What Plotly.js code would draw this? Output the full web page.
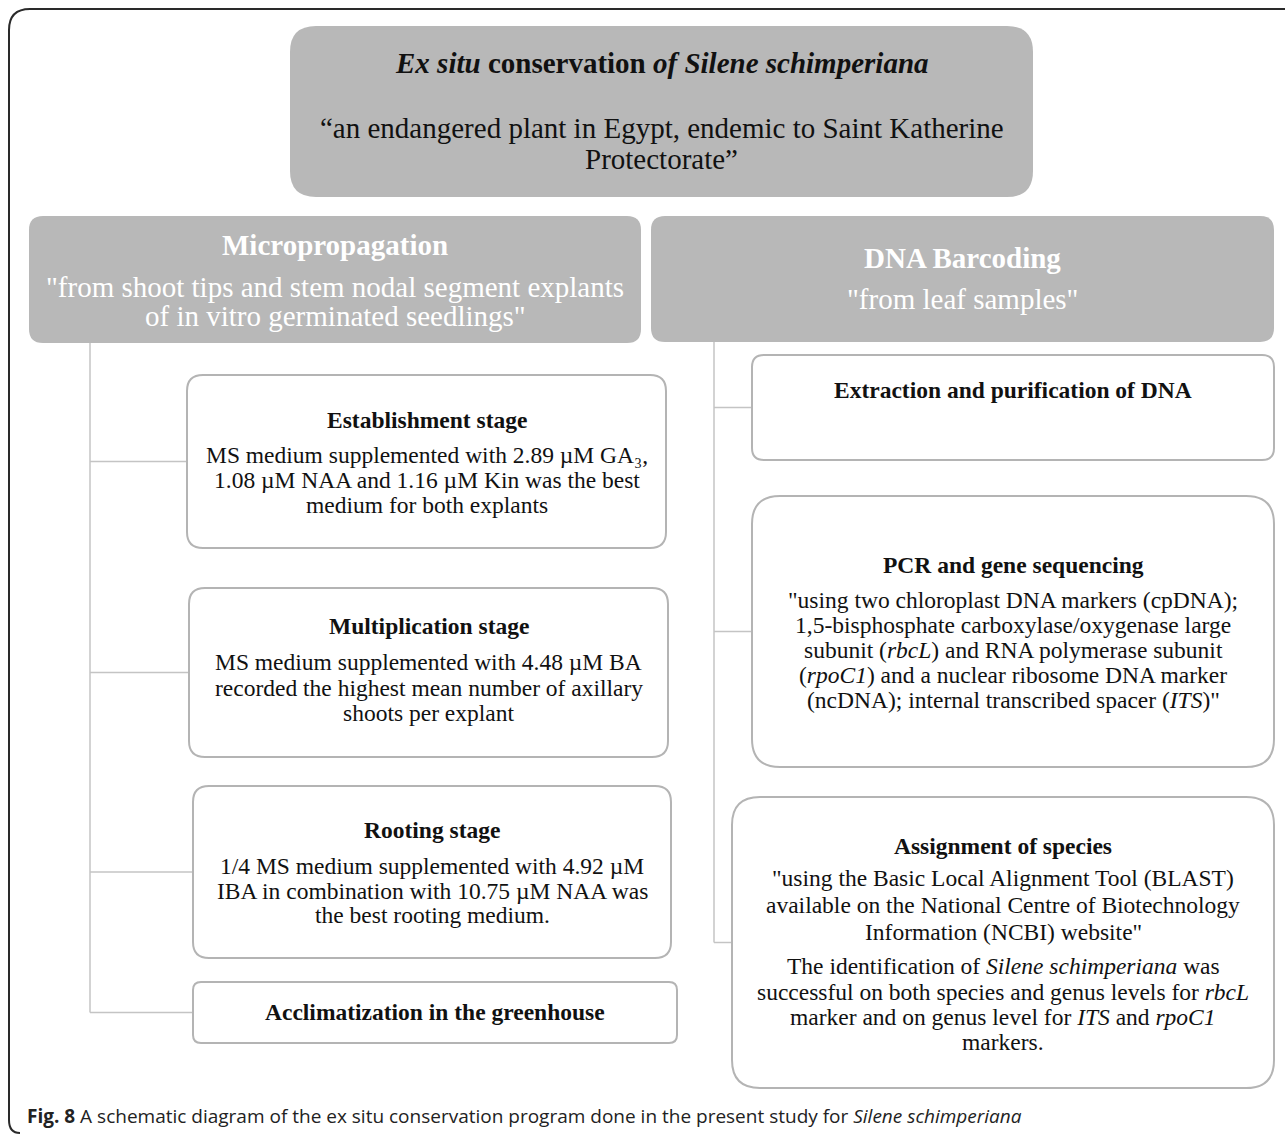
<!DOCTYPE html>
<html>
<head>
<meta charset="utf-8">
<script src="https://cdn.plot.ly/plotly-3.0.1.min.js"></script>
<style>html,body{margin:0;padding:0;background:#fff;}#chart{width:1285px;height:1134px;}</style>
</head>
<body>
<div id="chart"></div>
<script>
// ---------------- DATA (texts) ----------------
const topLines = [
  '<b><i>Ex situ</i> conservation <i>of Silene schimperiana</i></b>',
  '\u201Can endangered plant in Egypt, endemic to Saint Katherine',
  'Protectorate\u201D'
];
const branchTitles = ['Micropropagation', 'DNA Barcoding'];
const branchSubLines = [
  ['"from shoot tips and stem nodal segment explants', 'of in vitro germinated seedlings"'],
  ['"from leaf samples"']
];
const microStages = ['Establishment stage', 'Multiplication stage', 'Rooting stage', 'Acclimatization in the greenhouse'];
const microStageLines = [
  ['MS medium supplemented with 2.89 \u00B5M GA\u2083,', '1.08 \u00B5M NAA and 1.16 \u00B5M Kin was the best', 'medium for both explants'],
  ['MS medium supplemented with 4.48 \u00B5M BA', 'recorded the highest mean number of axillary', 'shoots per explant'],
  ['1/4 MS medium supplemented with 4.92 \u00B5M', 'IBA in combination with 10.75 \u00B5M NAA was', 'the best rooting medium.'],
  []
];
const dnaSteps = ['Extraction and purification of DNA', 'PCR and gene sequencing', 'Assignment of species'];
const dnaStepLines = [
  [],
  ['"using two chloroplast DNA markers (cpDNA);', '1,5-bisphosphate carboxylase/oxygenase large', 'subunit (<i>rbcL</i>) and RNA polymerase subunit', '(<i>rpoC1</i>) and a nuclear ribosome DNA marker', '(ncDNA); internal transcribed spacer (<i>ITS</i>)"'],
  ['"using the Basic Local Alignment Tool (BLAST)', 'available on the National Centre of Biotechnology', 'Information (NCBI) website"', 'The identification of <i>Silene schimperiana</i> was', 'successful on both species and genus levels for <i>rbcL</i>', 'marker and on genus level for <i>ITS</i> and <i>rpoC1</i>', 'markers.']
];
const captionText = '<b>Fig. 8</b> A schematic diagram of the ex situ conservation program done in the present study for <i>Silene schimperiana</i>';

// ---------------- GEOMETRY / STYLE ----------------
const W = 1285, H = 1134;
const SERIF = 'Liberation Serif, Times New Roman, serif';
const GREY = '#b8b8b8';
const BORDER = '#b4b4b4';
const CONN = '#c4c4c4';
const HEAD_SIZE = 29, BODY_SIZE = 23.5;

const topBox = {x0: 290, y0: 26, x1: 1033, y1: 197, r: 26, lineY: [63, 128, 159]};
const branchBoxes = [
  {x0: 29, y0: 216, x1: 641, y1: 343, r: 14, titleY: 245, subY: [287, 316]},
  {x0: 651, y0: 216, x1: 1274, y1: 342, r: 14, titleY: 258, subY: [299]}
];
const microBoxes = [
  {x0: 187, y0: 375, x1: 666, y1: 548, r: 16, titleY: 420, lineY: [455, 480, 505]},
  {x0: 189, y0: 588, x1: 668, y1: 757, r: 16, titleY: 626, lineY: [662, 688, 713]},
  {x0: 193, y0: 786, x1: 671, y1: 958, r: 16, titleY: 830, lineY: [866, 891, 915]},
  {x0: 193, y0: 982, x1: 677, y1: 1043, r: 8, titleY: 1012, lineY: []}
];
const dnaBoxes = [
  {x0: 752, y0: 355, x1: 1274, y1: 460, r: 12, titleY: 390, lineY: []},
  {x0: 752, y0: 496, x1: 1274, y1: 767, r: 28, titleY: 565, lineY: [600, 625, 650, 675, 700]},
  {x0: 732, y0: 797, x1: 1274, y1: 1088, r: 28, titleY: 846, lineY: [878, 905, 932, 966, 992, 1017, 1042]}
];
const microTrunkX = 90, dnaTrunkX = 714;

function rr(b) {
  const {x0, y0, x1, y1, r} = b;
  return `M ${x0 + r},${y0} L ${x1 - r},${y0} Q ${x1},${y0} ${x1},${y0 + r} L ${x1},${y1 - r} Q ${x1},${y1} ${x1 - r},${y1} L ${x0 + r},${y1} Q ${x0},${y1} ${x0},${y1 - r} L ${x0},${y0 + r} Q ${x0},${y0} ${x0 + r},${y0} Z`;
}

const shapes = [];
const annotations = [];

function txt(x, y, text, size, color, extra) {
  annotations.push(Object.assign({
    x: x, y: y, xref: 'x', yref: 'y', text: text, showarrow: false,
    xanchor: 'center', yanchor: 'middle',
    font: {family: SERIF, size: size, color: color}
  }, extra || {}));
}

// outer frame
shapes.push({type: 'path', path: 'M 20,1133 Q 9,1133 9,1120 L 9,30 Q 9,9 30,9 L 1290,9', line: {color: '#2a2a2a', width: 2}, layer: 'below'});

// connectors
function connectors(trunkX, topY, boxes) {
  const ys = boxes.map(b => (b.y0 + b.y1) / 2);
  shapes.push({type: 'line', x0: trunkX, x1: trunkX, y0: topY, y1: ys[ys.length - 1], line: {color: CONN, width: 1.5}, layer: 'below'});
  boxes.forEach((b, i) => {
    shapes.push({type: 'line', x0: trunkX, x1: b.x0, y0: ys[i], y1: ys[i], line: {color: CONN, width: 1.5}, layer: 'below'});
  });
}
connectors(microTrunkX, branchBoxes[0].y1, microBoxes);
connectors(dnaTrunkX, branchBoxes[1].y1, dnaBoxes);

// top box
shapes.push({type: 'path', path: rr(topBox), fillcolor: GREY, line: {width: 0}});
const topCx = (topBox.x0 + topBox.x1) / 2;
topLines.forEach((t, i) => txt(topCx, topBox.lineY[i], t, HEAD_SIZE, '#111'));

// branch boxes
branchBoxes.forEach((b, i) => {
  shapes.push({type: 'path', path: rr(b), fillcolor: GREY, line: {width: 0}});
  const cx = (b.x0 + b.x1) / 2;
  txt(cx, b.titleY, '<b>' + branchTitles[i] + '</b>', HEAD_SIZE, '#ffffff');
  branchSubLines[i].forEach((t, j) => txt(cx, b.subY[j], t, HEAD_SIZE, '#ffffff'));
});

// micro boxes
microBoxes.forEach((b, i) => {
  shapes.push({type: 'path', path: rr(b), fillcolor: '#ffffff', line: {color: BORDER, width: 2}});
  const cx = (b.x0 + b.x1) / 2;
  txt(cx, b.titleY, '<b>' + microStages[i] + '</b>', BODY_SIZE, '#111');
  microStageLines[i].forEach((t, j) => txt(cx, b.lineY[j], t, BODY_SIZE, '#111'));
});

// dna boxes
dnaBoxes.forEach((b, i) => {
  shapes.push({type: 'path', path: rr(b), fillcolor: '#ffffff', line: {color: BORDER, width: 2}});
  const cx = (b.x0 + b.x1) / 2;
  txt(cx, b.titleY, '<b>' + dnaSteps[i] + '</b>', BODY_SIZE, '#111');
  dnaStepLines[i].forEach((t, j) => txt(cx, b.lineY[j], t, BODY_SIZE, '#111'));
});

// caption
txt(25, 1116, captionText, 19, '#222', {xanchor: 'left', font: {family: 'Open Sans, sans-serif', size: 19, color: '#222'}});

const layout = {
  width: W, height: H,
  margin: {l: 0, r: 0, t: 0, b: 0},
  paper_bgcolor: '#ffffff', plot_bgcolor: '#ffffff',
  showlegend: false,
  xaxis: {range: [0, W], visible: false, fixedrange: true},
  yaxis: {range: [H, 0], visible: false, fixedrange: true},
  shapes: shapes,
  annotations: annotations
};

Plotly.newPlot('chart', [], layout, {displayModeBar: false, staticPlot: true});
</script>
</body>
</html>
